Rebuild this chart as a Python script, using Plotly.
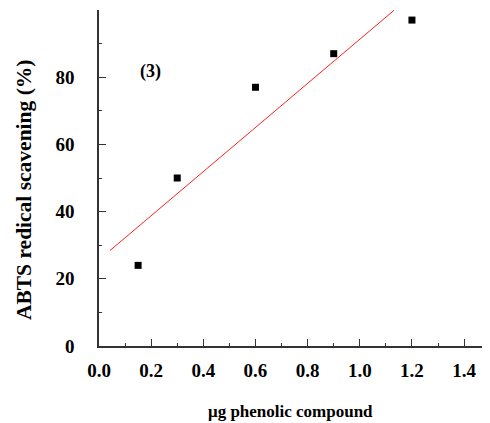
import numpy as np
import plotly.graph_objects as go

# Data
x_vals = [0.15, 0.3, 0.6, 0.9, 1.2]
y_vals = [24, 50, 77, 87, 97]
fit_x_range = [0.042, 1.132]

x_tick_vals = [0.0, 0.2, 0.4, 0.6, 0.8, 1.0, 1.2, 1.4]
x_tick_text = ["0.0", "0.2", "0.4", "0.6", "0.8", "1.0", "1.2", "1.4"]
y_tick_vals = [0, 20, 40, 60, 80]
y_tick_text = ["0", "20", "40", "60", "80"]

slope, intercept = np.polyfit(x_vals, y_vals, 1)
fit_y = [slope * v + intercept for v in fit_x_range]

FONT = "Times New Roman"

fig = go.Figure()
fig.add_trace(go.Scatter(x=fit_x_range, y=fit_y, mode="lines",
                         line=dict(color="#ff2020", width=1), showlegend=False))
fig.add_trace(go.Scatter(x=x_vals, y=y_vals, mode="markers",
                         marker=dict(symbol="square", size=7, color="black"),
                         showlegend=False))

axis_common = dict(showgrid=False, zeroline=False, showline=True,
                   linecolor="#333333", linewidth=1.5, ticks="inside",
                   tickcolor="#333333", tickwidth=1.2, ticklen=7,
                   automargin=False,
                   tickfont=dict(family=FONT, size=19, color="black"))

fig.update_xaxes(range=[0, 1.53], tickvals=x_tick_vals,
                 ticktext=["<b>%s</b>" % t for t in x_tick_text],
                 minor=dict(ticks="inside", ticklen=3, dtick=0.1, tick0=0,
                            tickcolor="#333333", tickwidth=1),
                 ticklabelstandoff=6, **axis_common)
fig.update_yaxes(range=[0, 100], tickvals=y_tick_vals,
                 ticktext=["<b>%s</b>" % t for t in y_tick_text],
                 minor=dict(ticks="inside", ticklen=3, dtick=10, tick0=0,
                            tickcolor="#333333", tickwidth=1),
                 ticklabelstandoff=19, **axis_common)

fig.add_annotation(x=0.196, y=81.7, xref="x", yref="y", text="<b>(3)</b>",
                   showarrow=False, font=dict(family=FONT, size=18, color="black"))
fig.add_annotation(x=(290.5 - 99) / 399, y=0, xref="paper", yref="paper", yshift=-65,
                   yanchor="middle", xanchor="center",
                   text="<b>μg phenolic compound</b>", showarrow=False,
                   font=dict(family=FONT, size=17, color="black"))
fig.add_annotation(x=0, y=0.464, xref="paper", yref="paper", xshift=-75,
                   xanchor="center", yanchor="middle",
                   text="<b>ABTS redical scavening (%)</b>", showarrow=False,
                   textangle=-90,
                   font=dict(family=FONT, size=21.5, color="black"))

fig.update_layout(width=490, height=423, plot_bgcolor="white",
                  paper_bgcolor="white",
                  font=dict(family=FONT),
                  margin=dict(l=91, r=0, t=2, b=85))

fig.write_html("out.html")
